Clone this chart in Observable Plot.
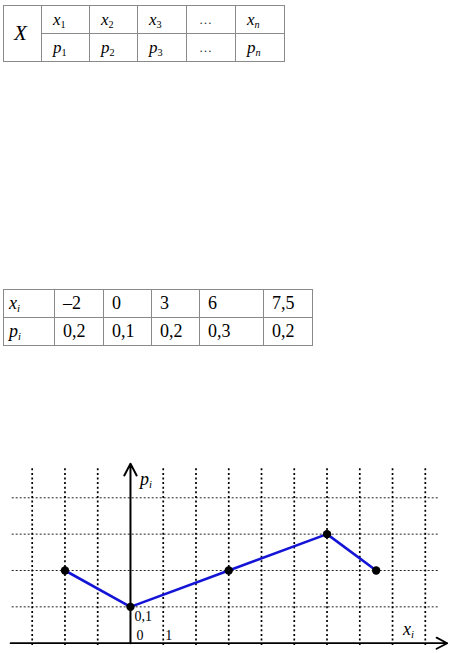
<!DOCTYPE html>
<html>
<head>
<meta charset="utf-8">
<script src="https://cdn.jsdelivr.net/npm/d3@7"></script>
<script src="https://cdn.jsdelivr.net/npm/@observablehq/plot@0.6"></script>
<style>
  html, body { margin: 0; padding: 0; background: #fff; }
  body { position: relative; width: 450px; height: 653px; overflow: hidden; font-family: "Liberation Serif", "Times New Roman", serif; color: #000; }
  table { border-collapse: collapse; table-layout: fixed; position: absolute; }
  td { border: 1px solid #8a8a8a; padding: 0 0 0 8px; text-align: left; white-space: nowrap; }
  #t1 { left: 3px; top: 5px; font-size: 17px; }
  #t1 td { height: 27px; }
  #t2 { left: 3px; top: 289px; font-size: 18px; }
  #t2 td { height: 27px; }
  i { font-style: italic; }
  sub { font-size: 0.6em; vertical-align: -0.3em; line-height: 0; }
  .lbl { position: absolute; font-size: 18px; line-height: 1; }
  #chart { position: absolute; left: 0; top: 453px; }
</style>
</head>
<body>
<table id="t1"></table>
<table id="t2"></table>
<div id="chart"></div>
<div class="lbl" style="left:140px; top:470px;"><i>p</i><sub><i>i</i></sub></div>
<div class="lbl" style="left:403px; top:620px;"><i>x</i><sub><i>i</i></sub></div>
<script>
// ---- data ----
const genericX = ["x<sub>1</sub>", "x<sub>2</sub>", "x<sub>3</sub>", "…", "x<sub><i>n</i></sub>"];
const genericP = ["p<sub>1</sub>", "p<sub>2</sub>", "p<sub>3</sub>", "…", "p<sub><i>n</i></sub>"];
const xValues = [-2, 0, 3, 6, 7.5];
const pValues = [0.2, 0.1, 0.2, 0.3, 0.2];
const xLabels = ["–2", "0", "3", "6", "7,5"];
const pLabels = ["0,2", "0,1", "0,2", "0,3", "0,2"];
const gridX = [-3, -2, -1, 1, 2, 3, 4, 5, 6, 7, 8, 9];
const gridP = [0.1, 0.2, 0.3, 0.4];
const labelP = [{x: 0, y: 0.1, text: "0,1"}];
const labelZero = [{x: 0, y: 0, text: "0"}];
const labelOne = [{x: 1, y: 0, text: "1"}];

// ---- table 1 ----
const w1 = [38, 48, 48, 49, 49, 49];
const cell = s => s === "…"
  ? `<td style="padding-left:12px;font-size:13px;color:#333">…</td>`
  : `<td style="padding-left:11px"><i>${s[0]}</i>${s.slice(1)}</td>`;
const t1 = document.getElementById("t1");
t1.innerHTML =
  "<colgroup>" + w1.map(w => `<col style="width:${w}px">`).join("") + "</colgroup>" +
  `<tr><td rowspan="2" style="font-size:21px;padding-left:10px"><i>X</i></td>` +
  genericX.map(cell).join("") + "</tr>" +
  "<tr>" + genericP.map(cell).join("") + "</tr>";

// ---- table 2 ----
const w2 = [51, 49, 48, 48, 64, 49];
const t2 = document.getElementById("t2");
t2.innerHTML =
  "<colgroup>" + w2.map(w => `<col style="width:${w}px">`).join("") + "</colgroup>" +
  `<tr><td style="padding-left:5px"><i>x</i><sub><i>i</i></sub></td>` + xLabels.map(s => `<td>${s}</td>`).join("") + "</tr>" +
  `<tr><td style="padding-left:5px"><i>p</i><sub><i>i</i></sub></td>` + pLabels.map(s => `<td>${s}</td>`).join("") + "</tr>";

// ---- chart ----
const points = xValues.map((x, i) => ({x, p: pValues[i]}));
const serif = "Liberation Serif";
const textOpts = {x: "x", y: "y", text: "text", textAnchor: "start", fontSize: 14, fontFamily: serif, fill: "#000"};
const chart = Plot.plot({
  width: 450,
  height: 200,
  marginLeft: 31.7,
  marginRight: 25.2,
  marginTop: 44.3,
  marginBottom: 10.3,
  x: {domain: [-3, 9], axis: null},
  y: {domain: [0, 0.4], axis: null},
  marks: [
    Plot.ruleY(gridP, {stroke: "#222", strokeWidth: 1, strokeDasharray: "2,2", insetLeft: -20, insetRight: -13}),
    Plot.ruleX(gridX, {stroke: "#000", strokeWidth: 1.7, strokeDasharray: "2,2.6", insetTop: -29, insetBottom: -4.5}),
    Plot.arrow([{x1: -3.66, x2: 9.67, y: 0}], {x1: "x1", x2: "x2", y1: "y", y2: "y", stroke: "#000", strokeWidth: 1.8, headLength: 10, headAngle: 55}),
    Plot.arrow([{x: 0, y1: 0, y2: 0.494}], {x1: "x", x2: "x", y1: "y1", y2: "y2", stroke: "#000", strokeWidth: 2, headLength: 10, headAngle: 55}),
    Plot.line(points, {x: "x", y: "p", stroke: "#1414d6", strokeWidth: 2.6}),
    Plot.dot(points, {x: "x", y: "p", r: 4.2, fill: "#000", stroke: "none"}),
    Plot.text(labelP, {...textOpts, dx: 4, dy: 10}),
    Plot.text(labelZero, {...textOpts, dx: 6, dy: -8}),
    Plot.text(labelOne, {...textOpts, dx: 2, dy: -8})
  ]
});
document.getElementById("chart").append(chart);
</script>
</body>
</html>
